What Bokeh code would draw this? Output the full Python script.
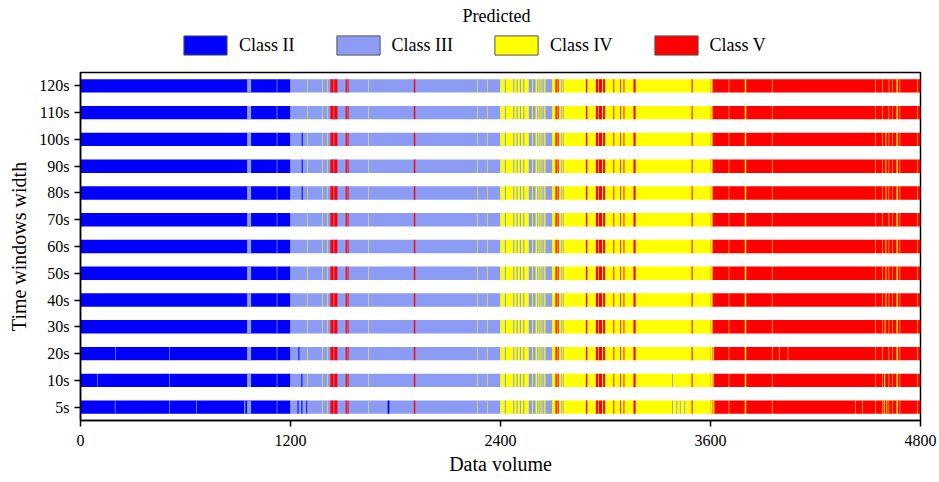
from bokeh.plotting import figure
from bokeh.models import (FactorRange, FixedTicker, Legend, LegendItem, ColumnDataSource,
                          CDSView, GroupFilter, Label)
from bokeh.layouts import column
from bokeh.transform import factor_cmap
from bokeh.embed import file_html
from bokeh.resources import INLINE

rows = ["5s", "10s", "20s", "30s", "40s", "50s", "60s", "70s", "80s", "90s", "100s", "110s", "120s"]
classes = ["Class II", "Class III", "Class IV", "Class V"]
colors = ["#0000FF", "#8C9CF5", "#FFFF00", "#FF0000"]

# true-class blocks (same for every row)
block_start = [0, 1200, 2400, 3600]
block_end = [1200, 2400, 3600, 4800]
block_class = ["Class II", "Class III", "Class IV", "Class V"]

# misclassified stripes common to every row
common_start = [952, 1121,
                1297, 1382, 1410, 1428, 1450, 1515, 1526, 1645, 1905, 2268, 2325,
                2425, 2473, 2492, 2511, 2530, 2562, 2585, 2610, 2622, 2634, 2644, 2657,
                2714, 2726, 2745, 2756, 2888, 2945, 2962, 2986, 3045, 3084, 3103, 3160, 3492,
                3600, 3704, 3796, 3951, 4542, 4580, 4618, 4637, 4663, 4681, 4780]
common_end = [975, 1125,
              1300, 1385, 1413, 1446, 1468, 1522, 1532, 1648, 1913, 2271, 2328,
              2431, 2479, 2498, 2517, 2536, 2580, 2600, 2616, 2628, 2640, 2650, 2695,
              2722, 2733, 2750, 2761, 2896, 2958, 2980, 2998, 3050, 3089, 3108, 3172, 3498,
              3612, 3707, 3804, 3954, 4545, 4583, 4621, 4640, 4671, 4684, 4783]
common_class = ["Class III", "Class III",
                "Class IV", "Class IV", "Class IV", "Class V", "Class V", "Class V", "Class V",
                "Class IV", "Class V", "Class IV", "Class IV",
                "Class III", "Class III", "Class III", "Class III", "Class III", "Class III",
                "Class III", "Class III", "Class III", "Class III", "Class III", "Class III",
                "Class V", "Class V", "Class III", "Class III", "Class V", "Class V", "Class V",
                "Class V", "Class V", "Class V", "Class V", "Class V", "Class V",
                "Class IV", "Class IV", "Class IV", "Class IV", "Class IV", "Class IV",
                "Class IV", "Class IV", "Class IV", "Class IV", "Class IV"]

# extra stripes that only appear in some rows
extra_row = ["5s"] * 17 + ["10s"] * 6 + ["20s"] * 6 + ["30s"] + \
            ["40s", "50s", "60s", "80s", "90s", "100s"] + ["80s", "90s", "100s"]
extra_start = [196, 506, 661, 935, 1240, 1262, 1290, 1755, 3380, 3405, 3425, 3450, 3615, 4426, 4466, 4590, 4605,
               96, 507, 1262, 3380, 3612, 4592,
               198, 507, 1245, 3615, 3991, 4041,
               4595,
               4600, 4600, 4600, 4600, 4600, 4600,
               1264, 1264, 1264]
extra_end = [200, 510, 665, 942, 1246, 1268, 1296, 1765, 3385, 3410, 3430, 3455, 3622, 4429, 4469, 4596, 4610,
             100, 511, 1268, 3385, 3618, 4598,
             202, 511, 1251, 3620, 3994, 4044,
             4600,
             4605, 4605, 4605, 4605, 4605, 4605,
             1270, 1270, 1270]
extra_class = ["Class III"] * 4 + ["Class II"] * 4 + ["Class III"] * 4 + ["Class IV"] * 5 + \
              ["Class III", "Class III", "Class II", "Class III", "Class IV", "Class IV"] + \
              ["Class III", "Class III", "Class II", "Class IV", "Class IV", "Class IV"] + \
              ["Class IV"] + ["Class IV"] * 6 + ["Class II"] * 3

x_ticks = [0, 1200, 2400, 3600, 4800]

seg_row, seg_left, seg_right, seg_class = [], [], [], []
for r in rows:
    for s, e, c in zip(block_start, block_end, block_class):
        seg_row.append(r); seg_left.append(s); seg_right.append(e); seg_class.append(c)
    for s, e, c in zip(common_start, common_end, common_class):
        seg_row.append(r); seg_left.append(s); seg_right.append(e); seg_class.append(c)
    for rr, s, e, c in zip(extra_row, extra_start, extra_end, extra_class):
        if rr == r:
            seg_row.append(r); seg_left.append(s); seg_right.append(e); seg_class.append(c)

src = ColumnDataSource(dict(row=seg_row, left=seg_left, right=seg_right, cls=seg_class))

FONT = "Liberation Serif"

# ---- header figure: "Predicted" + legend ----
head = figure(width=939, height=70, x_range=(0, 4800), y_range=FactorRange(factors=rows),
              x_axis_type=None, y_axis_type=None, output_backend="svg", toolbar_location=None,
              min_border=0)
head.grid.visible = False
head.outline_line_color = None

items = []
for c, col in zip(classes, colors):
    r = head.hbar(y="row", left="left", right="right", height=0.5, source=src,
                  view=CDSView(filter=GroupFilter(column_name="cls", group=c)),
                  fill_color=col, line_color="#555555", line_width=1, visible=False)
    items.append(LegendItem(label=c, renderers=[r]))

legend = Legend(items=items, orientation="horizontal", location=(98, 13),
                glyph_width=54, glyph_height=24, label_standoff=7, spacing=36,
                padding=0, margin=0, border_line_color=None, background_fill_alpha=0,
                inactive_fill_alpha=0,
                label_text_font=FONT, label_text_font_size="18px", label_text_color="black")
head.add_layout(legend, "center")
head.add_layout(Label(x=416, y=55, x_units="screen", y_units="screen", text="Predicted",
                      text_align="center", text_baseline="middle", text_font=FONT,
                      text_font_size="18px", text_color="black"))

# ---- main figure ----
p = figure(width=939, height=412, x_range=(0, 4800), y_range=FactorRange(factors=rows),
           output_backend="svg", toolbar_location=None,
           min_border_left=80, min_border_right=19, min_border_top=2, min_border_bottom=62)

p.hbar(y="row", left="left", right="right", height=0.5, source=src,
       fill_color=factor_cmap("cls", colors, classes), line_color=None)

p.xgrid.visible = False
p.ygrid.visible = False
p.outline_line_color = "black"
p.outline_line_width = 1.5

p.xaxis.ticker = FixedTicker(ticks=x_ticks)
p.xaxis.minor_tick_line_color = None
for ax in (p.xaxis, p.yaxis):
    ax.axis_line_color = "black"
    ax.axis_line_width = 1.5
    ax.major_tick_line_color = "black"
    ax.major_tick_line_width = 1.5
    ax.major_tick_in = 0
    ax.major_tick_out = 6
    ax.major_label_text_font = FONT
    ax.major_label_text_font_size = "16px"
    ax.major_label_text_color = "black"
    ax.axis_label_text_font = FONT
    ax.axis_label_text_font_size = "20px"
    ax.axis_label_text_font_style = "normal"
    ax.axis_label_text_color = "black"
p.xaxis.axis_label = "Data volume"
p.yaxis.axis_label = "Time windows width"
p.xaxis.major_label_standoff = 8
p.xaxis.axis_label_standoff = 4
p.yaxis.axis_label_standoff = 6

layout = column(head, p, spacing=0)
open("out.html", "w").write(file_html(layout, INLINE))
